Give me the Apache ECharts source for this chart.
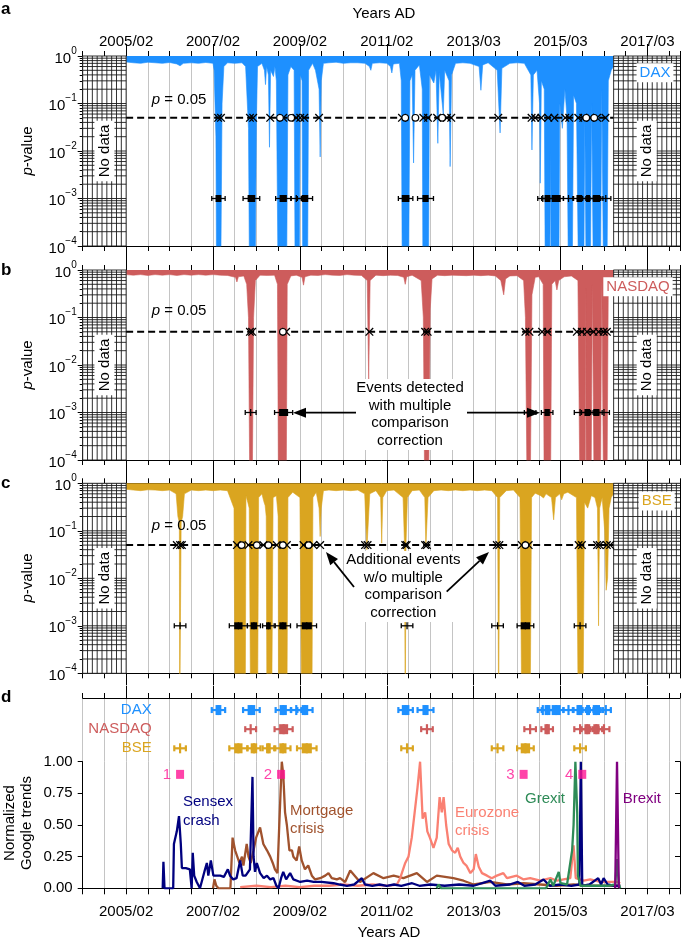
<!DOCTYPE html>
<html><head><meta charset="utf-8">
<script src="https://cdn.jsdelivr.net/npm/echarts@6/dist/echarts.min.js"></script>
<style>html,body{margin:0;padding:0;background:#fff}#c{width:685px;height:941px}</style>
</head><body><div id="c"></div>
<script>
// ---------- DATA (x = months since 2004/02) ----------
const tickMonths = [12,36,60,84,108,132,156];
const tickLabels = ['2005/02','2007/02','2009/02','2011/02','2013/03','2015/03','2017/03'];
const pExponents = [0,1,2,3,4];
const pThreshold = 0.05;
const pCorrected = 0.001;
const dataStart = 12, dataEnd = 146.6;

const daxMonth = [12,14,16,18,20,22,24,26,26.9,27.8,30,32,34,36,36.3,36.8,37.0,38.1,38.5,39.0,40,42,44,45.0,45.8,46.1,47.6,48.0,48.3,49.5,50.2,50.5,50.8,51.3,51.6,51.9,52.7,53.1,53.5,54.0,56.3,56.7,57.5,58.4,58.7,59.8,60.1,60.6,60.8,62.1,62.4,63.5,64.3,65.3,65.6,65.9,66.5,68,70,72,74,76,78,79.2,79.6,80,82,84,85,85.4,85.8,87.5,88.0,88.3,90.0,90.4,91.0,91.4,91.8,93,93.8,94.0,95.5,95.8,97.0,97.6,98.1,98.5,99.6,100.0,101.2,101.5,101.9,103,105,107,109.5,110,110.5,112,114.5,115.3,115.8,118,120,122,123.8,124.1,124.5,125.5,126.2,126.4,126.7,127.5,127.8,129.0,129.2,129.4,131.5,131.8,132.5,133.2,133.8,134.2,135.2,135.6,136.4,137.0,138.4,138.7,139.1,140.2,140.6,141.1,143.0,143.4,143.9,144.8,145.2,146.0,146.6];
const daxP = [0.75,0.72,0.7,0.74,0.72,0.7,0.73,0.68,0.62,0.7,0.72,0.7,0.73,0.7,0.5,0.02,1e-5,1e-5,0.1,0.6,0.72,0.7,0.72,0.6,0.03,1e-5,1e-5,0.05,0.6,0.7,0.5,0.25,0.6,0.4,0.012,0.5,0.37,0.6,0.3,1e-5,1e-5,0.4,0.6,0.5,1e-5,1e-5,0.4,0.3,1e-5,1e-5,0.5,0.7,0.5,0.2,0.0075,0.3,0.7,0.72,0.74,0.7,0.72,0.72,0.7,0.6,0.5,0.7,0.72,0.7,0.6,0.44,0.68,0.7,0.3,1e-5,1e-5,0.3,0.4,0.0056,0.5,0.65,0.2,1e-5,1e-5,0.4,0.27,0.5,0.0145,0.45,0.06,0.5,0.3,0.0047,0.4,0.7,0.72,0.7,0.6,0.19,0.65,0.72,0.5,0.024,0.55,0.7,0.72,0.7,0.4,0.0105,0.4,0.5,0.1,0.0021,0.3,0.2,1e-5,1e-5,0.01,1e-5,1e-5,0.1,0.03,0.2,0.05,1e-5,1e-5,0.15,0.1,1e-5,1e-5,0.05,1e-5,1e-5,0.1,1e-5,1e-5,0.2,1e-5,1e-5,0.3,0.5,0.6];

const nasdaqMonth = [12,14,16,18,20,22,24,26,28,30,32,34,36,38,40,42.2,42.6,43.0,44.5,45.3,45.8,46.2,46.8,47.2,47.7,49,51,53,53.8,54.1,56.2,56.5,57.5,59,60.6,61.0,61.4,63,65,67,69,71,73,75,77,78.6,79.0,79.4,81,83,85,87,88.7,89.1,89.5,91,93.5,94.1,94.5,95.5,96.0,96.5,98,100,102,104,106,108,110,112,114,115.5,116.3,116.8,118,120,121.8,122.3,122.8,123.6,124.1,125,126,127.2,127.5,129.2,129.6,130.5,131.0,131.5,133,135,136.8,137.4,138.8,138.95,139.1,140.4,140.8,141.3,143.0,143.4,143.9,144.8,145.2,146.6];
const nasdaqP = [0.8,0.78,0.8,0.77,0.8,0.78,0.8,0.77,0.8,0.78,0.8,0.78,0.8,0.78,0.77,0.7,0.56,0.72,0.75,0.5,0.1,1e-5,1e-5,0.1,0.6,0.78,0.77,0.78,0.5,1e-5,1e-5,0.5,0.75,0.78,0.7,0.48,0.72,0.78,0.77,0.8,0.78,0.77,0.8,0.78,0.77,0.6,0.005,0.6,0.78,0.76,0.78,0.77,0.7,0.5,0.72,0.78,0.6,0.1,1e-5,1e-5,0.15,0.65,0.78,0.76,0.78,0.77,0.76,0.78,0.76,0.78,0.75,0.6,0.3,0.65,0.75,0.76,0.6,0.1,1e-5,1e-5,0.3,0.7,0.72,0.5,1e-5,1e-5,0.5,0.6,0.38,0.6,0.72,0.75,0.6,1e-5,1e-5,0.4,1e-5,1e-5,0.5,1e-5,1e-5,0.6,1e-5,1e-5,0.6,0.7];

const bseMonth = [12,14,16,18,20,22,24,25.8,26.3,26.7,26.8,27.1,27.2,27.6,28.1,30,32,34,36,38,40,41.8,42.1,44.9,45.1,45.6,46.0,46.4,48.3,48.6,49.5,50.1,50.4,50.7,50.9,52.2,52.6,53.5,54.0,54.1,56.4,56.7,58,60.0,60.5,63.3,63.6,64.5,65.3,65.6,65.9,66.5,68,70,72,74,76,77.9,78.5,79.0,79.3,81,82.3,82.6,82.9,84,86,88.5,88.9,89.1,89.3,89.7,91,93,94.5,94.8,95.1,95.4,97,99,101,103,105,107,109,111,113,114.6,114.9,115.2,117,119,120.8,121.3,123.6,124.0,125,126.5,127.3,128,129.5,130.1,130.6,131.8,132.3,132.9,134,136.4,136.9,138.2,138.6,139.5,140.5,141.5,142.2,142.5,142.8,143.5,144.2,144.6,145.0,145.4,146.0,146.6];
const bseP = [0.75,0.72,0.7,0.73,0.72,0.7,0.72,0.6,0.2,0.15,1e-5,1e-5,0.15,0.2,0.6,0.72,0.7,0.72,0.7,0.72,0.7,0.3,1e-5,1e-5,0.55,0.4,0.3,1e-5,1e-5,0.5,0.6,0.4,0.34,0.2,1e-5,1e-5,0.5,0.55,0.2,1e-5,1e-5,0.5,0.65,0.5,1e-5,1e-5,0.5,0.65,0.3,0.076,0.3,0.7,0.72,0.7,0.72,0.7,0.72,0.6,0.04,0.04,0.6,0.7,0.5,0.055,0.5,0.7,0.72,0.5,0.05,1e-5,0.05,0.5,0.7,0.72,0.5,0.047,0.047,0.5,0.7,0.72,0.7,0.72,0.7,0.72,0.7,0.72,0.7,0.5,1e-5,0.5,0.7,0.72,0.5,1e-5,1e-5,0.5,0.62,0.55,0.49,0.6,0.5,0.17,0.5,0.6,0.45,0.6,0.65,0.5,1e-5,1e-5,0.4,0.3,0.55,0.5,0.3,0.001,0.3,0.5,0.1,0.0056,0.01,0.3,0.5,0.6];

// markers on the p = 0.05 line (months)
const daxXMarks = [37.4,38.2,46.2,47.1,51.8,55.4,59.0,60.1,61.2,65.3,88.2,94.1,95.4,97.9,100.6,101.8,114.8,124.0,125.0,126.7,128.6,130.3,133.3,134.4,136.9,138.3,140.2,142.1,144.4];
const daxOMarks = [54.5,57.6,89.1,91.9,99.3,139.1,141.3];
const nasdaqXMarks = [46.2,46.8,56.2,79.2,94.6,95.3,122.3,123.4,126.9,128.4,136.5,137.9,139.3,141.1,142.5,143.9,144.8];
const nasdaqOMarks = [55.3];
const bseXMarks = [26.0,26.9,27.4,42.6,45.8,49.9,53.6,56.4,61.0,63.7,65.6,78.0,78.7,89.1,89.5,94.6,95.1,114.4,115.1,121.3,123.2,137.0,137.9,142.1,142.8,144.8,145.7];
const bseOMarks = [43.9,48.1,51.3,55.3,62.4,122.3];

// events detected with correction: [centre month, box width (months), half whisker (months)]
const daxEvents = [[37.5,1.6,1.85],[46.6,2.1,2.3],[55.4,2.0,2.1],[59.0,0,1.4],[61.4,1.8,2.1],[89.2,2.1,2.0],[94.7,1.7,2.2],[127.1,0,1.4],[128.4,1.6,1.6],[130.8,2.5,2.0],[134.2,0,1.4],[137.2,1.6,1.8],[139.6,1.1,1.5],[141.9,2.0,1.8],[144.5,0,1.4]];
const nasdaqEvents = [[46.4,0,1.5],[55.5,2.5,2.5],[95.1,0,1.6],[123.6,0,1.6],[128.3,1.5,1.6],[137.4,0,1.6],[139.4,1.6,1.6],[141.9,1.7,1.6],[144.0,0,1.5]];
const bseEvents = [[26.9,0,1.6],[43.0,2.3,2.5],[47.3,1.8,1.8],[51.3,1.3,1.6],[55.3,2.0,2.1],[61.9,2.8,2.7],[89.6,0,1.6],[114.6,0,1.6],[122.3,2.6,2.3],[137.4,0,1.6]];

// Google trends
const sensexM = [22.1,22.3,22.6,25.0,25.2,26.0,26.6,27.1,27.4,28.5,29.6,30.1,30.4,30.8,31.5,32.4,33.8,34.3,34.7,35.4,36.1,37,38,39,40.1,40.7,41.6,42.5,43.5,44.2,45,46.2,46.9,47.2,47.6,48.1,49.0,50.0,50.9,51.8,52.7,53.5,54.1,54.8,55.4,56.2,57.3,58.2,60.1,62,63.8,66,69.3,71,73,75,77.1,78,80,82,84,86,88,91.0,93,96,100,104,108,112.6,114,118,120.2,122,125,127.3,129,132,135,137.2,137.6,138.0,140,142.4,143.2,143.9,145,147,148.5];
const sensexV = [0,0.21,0,0,0.35,0.45,0.57,0.35,0.16,0.16,0.15,0,0.28,0.1,0.05,0,0.15,0.2,0.1,0.22,0.1,0.1,0.1,0.09,0.15,0.1,0.07,0.08,0.22,0.1,0.1,0.15,0.88,0.25,0.13,0.2,0.12,0.08,0.1,0.07,0.08,0.02,0,0.08,0.13,0.07,0.12,0.07,0.05,0.06,0.05,0.05,0.04,0.03,0.02,0.03,0.08,0.03,0.02,0.03,0.02,0.03,0.02,0.04,0.02,0.03,0.02,0.03,0.02,0.06,0.02,0.03,0.05,0.02,0.03,0.07,0.02,0.03,0.02,0.03,1.0,0.02,0.03,0.08,0.03,0.08,0.03,0.02,0.02];
const mortgageM = [36.0,36.4,36.9,37.5,40.8,41.4,42.1,42.6,43.3,44.0,44.4,45.3,45.8,46.4,47.2,47.9,49.0,49.9,50.9,51.8,52.5,53.1,53.8,54.3,55.0,55.4,55.9,56.4,57.1,57.8,58.2,59.1,59.8,60.5,61.4,62.3,63.3,64.2,65.6,67.0,67.9,68.8,70.2,71.1,72.5,73.9,76.6,80.3,83.1,85.9,88.6,92.3,95.1,97.8,102.4,105.2,108.0,112.6,117.2,121.8,126.4,131,135.6,140,145,148.5];
const mortgageV = [0,0.07,0.02,0,0,0.4,0.3,0.3,0.2,0.25,0.18,0.35,0.25,0.2,0.3,0.4,0.48,0.35,0.3,0.25,0.2,0.15,0.12,0.5,1.0,0.9,0.6,0.5,0.3,0.3,0.25,0.22,0.33,0.22,0.15,0.18,0.1,0.07,0.08,0.1,0.12,0.08,0.07,0.08,0.05,0.14,0.05,0.12,0.08,0.1,0.08,0.12,0.05,0.1,0.08,0.06,0.03,0.05,0.03,0.04,0.03,0.02,0.03,0.02,0.02,0.02];
const eurozoneM = [43.5,48,52,56,60,64,68,72,76,80,84,86.8,87.7,89.1,90.0,90.9,91.9,92.5,93.2,93.9,94.6,95.2,95.9,96.9,97.8,98.6,99.2,99.7,100.4,101.1,102.0,102.9,103.6,104.3,105.2,106.0,107.1,108.0,108.6,109.4,110.3,111.7,113.0,114.4,116.2,117.2,119.9,121.8,123.6,126.4,129.2,131.0,134.7,135.6,136.2,138.4,140.2,143.0,147.6,148.5];
const eurozoneV = [0.01,0.02,0.01,0.02,0.01,0.02,0.02,0.03,0.02,0.03,0.02,0.03,0.08,0.2,0.25,0.4,0.65,0.8,1.0,0.55,0.6,0.45,0.4,0.32,0.4,0.72,0.6,0.72,0.5,0.35,0.3,0.28,0.32,0.25,0.2,0.18,0.12,0.15,0.27,0.17,0.12,0.1,0.08,0.1,0.12,0.08,0.1,0.07,0.08,0.06,0.08,0.06,0.08,0.34,0.08,0.06,0.07,0.05,0.05,0.04];
const grexitM = [97.8,98.3,99,128,129.2,130.0,131.5,132.0,133.8,135.2,135.6,136.1,136.6,136.8,137.5,140,145,147.1,147.6,148.1,148.5];
const grexitV = [0,0.03,0,0,0.07,0.02,0.13,0.04,0.03,0.3,0.5,1.0,0.6,0.1,0.02,0.02,0.02,0.03,0.23,0.03,0];
const brexitM = [147.1,147.6,148.1];
const brexitV = [0,1.0,0];
const pinkM = [26.9,54.8,121.8,138.0];
const pinkV = [0.9,0.9,0.9,0.9];
const pinkLabels = ['1','2','3','4'];

// ---------- STYLE ----------
const FONT = '"Liberation Sans", Arial, Helvetica, sans-serif';
const C = {dax:'#1E90FF', nasdaq:'#CD5C5C', bse:'#DAA520', sensex:'#00007F', mortgage:'#A0522D', euro:'#FA8072', grexit:'#2E8B57', brexit:'#800080', pink:'#FF1493', grid:'#c4c4c4'};
const XMIN = 0, XMAX = 165, HATCH = 4/3;
const logTop = pExponents[0], logBottom = pExponents[pExponents.length-1];
const minorLog = [];
for (let k = 0; k < logBottom; k++) for (let m = 2; m <= 9; m++) minorLog.push(k + 1 - Math.log10(m));
const logGrid = pExponents.concat(minorLog);
const nl = p => -Math.log10(p);

const grids = [
  {left:82.7, top:56, width:597.3, height:190},
  {left:82.7, top:270, width:597.3, height:190},
  {left:82.7, top:483.3, width:597.3, height:190},
  {left:82.7, top:698, width:597.3, height:63.7},
  {left:82.7, top:761.7, width:597.3, height:126.6}
].map(g => Object.assign({containLabel:false, outerBoundsMode:'none'}, g));

const xAxis = [], yAxis = [], series = [];
const baseAx = {type:'value', min:XMIN, max:XMAX, axisLine:{show:false, onZero:false}, axisLabel:{show:false}, axisTick:{show:false}, splitLine:{show:false}};
function addX(o){ xAxis.push(Object.assign({}, baseAx, o)); return xAxis.length-1; }
function addY(o){ yAxis.push(Object.assign({type:'value', axisLine:{show:false,onZero:false}, axisLabel:{show:false}, axisTick:{show:false}, splitLine:{show:false}}, o)); return yAxis.length-1; }
const blackLine = {show:true, onZero:false, lineStyle:{color:'#000', width:1}};
const labelFor = v => tickLabels[tickMonths.indexOf(Math.round(v))] || '';

function minorX(g, pos, split){ return addX({gridIndex:g, position:pos, interval:6, axisLine:blackLine, axisTick:{show:true, length:5, lineStyle:{color:'#000'}}, splitLine:{show:split, lineStyle:{color:C.grid, width:1}}}); }
function majorX(g, pos, labels){
  return addX({gridIndex:g, position:pos, axisTick:{show:true, length:12, customValues:tickMonths, lineStyle:{color:'#000'}},
    axisLabel: labels ? {show:true, customValues:tickMonths, formatter:labelFor, fontSize:15, fontFamily:FONT, color:'#000', margin:7} : {show:false}});
}

function noDataRender(params, api){
  const x0 = api.value(0), x1 = api.value(1);
  const tl = api.coord([x0, logTop]), br = api.coord([x1, logBottom]);
  const ch = [{type:'rect', shape:{x:tl[0], y:tl[1], width:br[0]-tl[0], height:br[1]-tl[1]}, style:{fill:'#fff'}}];
  logGrid.forEach(v => { const y = api.coord([x0, v])[1]; ch.push({type:'line', shape:{x1:tl[0], y1:y, x2:br[0], y2:y}, style:{stroke:'#1a1a1a', lineWidth:0.9}}); });
  for (let k = Math.ceil(x0/HATCH - 1e-9); k*HATCH <= x1 + 1e-9; k++) {
    const x = api.coord([k*HATCH, logTop])[0];
    ch.push({type:'line', shape:{x1:x, y1:tl[1], x2:x, y2:br[1]}, style:{stroke:'#1a1a1a', lineWidth:0.9}});
  }
  ch.push({type:'text', x:(tl[0]+br[0])/2, y:(tl[1]+br[1])/2, rotation:Math.PI/2,
    style:{text:'No data', fontSize:15, fontFamily:FONT, fill:'#000', align:'center', verticalAlign:'middle', backgroundColor:'#fff', padding:[3,4,2,4]}});
  return {type:'group', children:ch};
}
function xMarkRender(params, api){
  const p = api.coord([api.value(0), api.value(1)]); const s = 3.8;
  return {type:'group', children:[
    {type:'line', shape:{x1:p[0]-s, y1:p[1]-s, x2:p[0]+s, y2:p[1]+s}, style:{stroke:'#000', lineWidth:1.3}},
    {type:'line', shape:{x1:p[0]-s, y1:p[1]+s, x2:p[0]+s, y2:p[1]-s}, style:{stroke:'#000', lineWidth:1.3}}]};
}
function oMarkRender(params, api){
  const p = api.coord([api.value(0), api.value(1)]);
  return {type:'circle', shape:{cx:p[0], cy:p[1], r:3.3}, style:{stroke:'#000', fill:'#fff', lineWidth:1.2}};
}
function eventRender(yVal, color, boxH, crossH, lw, capH){
  return function(params, api){
    const c = api.value(0), bw = api.value(1), wh = api.value(2);
    const p = api.coord([c, yVal]), pl = api.coord([c-wh, yVal]), pr = api.coord([c+wh, yVal]);
    const w = api.size([bw, 0])[0];
    const st = {stroke:color, lineWidth:lw};
    const ch = [
      {type:'line', shape:{x1:pl[0], y1:p[1], x2:pr[0], y2:p[1]}, style:st},
      {type:'line', shape:{x1:pl[0], y1:p[1]-capH/2, x2:pl[0], y2:p[1]+capH/2}, style:st},
      {type:'line', shape:{x1:pr[0], y1:p[1]-capH/2, x2:pr[0], y2:p[1]+capH/2}, style:st},
      {type:'line', shape:{x1:p[0], y1:p[1]-crossH/2, x2:p[0], y2:p[1]+crossH/2}, style:st}];
    if (bw > 0) ch.push({type:'rect', shape:{x:p[0]-w/2, y:p[1]-boxH/2, width:w, height:boxH}, style:{fill:color}});
    return {type:'group', children:ch};
  };
}

const panels = [
  {m:daxMonth, p:daxP, color:C.dax, xm:daxXMarks, om:daxOMarks, ev:daxEvents},
  {m:nasdaqMonth, p:nasdaqP, color:C.nasdaq, xm:nasdaqXMarks, om:nasdaqOMarks, ev:nasdaqEvents},
  {m:bseMonth, p:bseP, color:C.bse, xm:bseXMarks, om:bseOMarks, ev:bseEvents}
];
panels.forEach((P, g) => {
  const xi = minorX(g, 'top', true);
  majorX(g, 'top', g === 0);
  minorX(g, 'bottom', false);
  majorX(g, 'bottom', false);
  const yi = addY({gridIndex:g, position:'left', inverse:true, min:logTop, max:logBottom, interval:1,
    axisLine:blackLine, axisTick:{show:true, length:5, lineStyle:{color:'#000'}},
    axisLabel:{show:true, margin:6, formatter:v => '{b|10}{s|' + (v === 0 ? '0' : '\u2212' + v) + '}',
      rich:{b:{fontSize:15, fontFamily:FONT, color:'#000', lineHeight:20, verticalAlign:'bottom'},
            s:{fontSize:10, fontFamily:FONT, color:'#000', lineHeight:10, verticalAlign:'top'}}}});
  addY({gridIndex:g, position:'left', inverse:true, min:logTop, max:logBottom, axisTick:{show:true, length:3, customValues:minorLog, lineStyle:{color:'#000'}}});
  addY({gridIndex:g, position:'right', inverse:true, min:logTop, max:logBottom, axisLine:blackLine});
  series.push({type:'line', xAxisIndex:xi, yAxisIndex:yi, data:P.m.map((m,i) => [m, nl(P.p[i])]), symbol:'none',
    lineStyle:{width:0.6, color:P.color}, areaStyle:{color:P.color, opacity:1, origin:'start'}, z:2, silent:true});
  series.push({type:'custom', xAxisIndex:xi, yAxisIndex:yi, data:[[XMIN, dataStart],[dataEnd, XMAX]], renderItem:noDataRender, z:3, silent:true});
  series.push({type:'line', xAxisIndex:xi, yAxisIndex:yi, data:[[dataStart, nl(pThreshold)],[dataEnd, nl(pThreshold)]], symbol:'none',
    lineStyle:{color:'#000', width:2, type:[7,4]}, z:4, silent:true});
  series.push({type:'custom', xAxisIndex:xi, yAxisIndex:yi, data:P.xm.map(m => [m, nl(pThreshold)]), renderItem:xMarkRender, z:5, silent:true});
  series.push({type:'custom', xAxisIndex:xi, yAxisIndex:yi, data:P.om.map(m => [m, nl(pThreshold)]), renderItem:oMarkRender, z:5, silent:true});
  series.push({type:'custom', xAxisIndex:xi, yAxisIndex:yi, data:P.ev, renderItem:eventRender(nl(pCorrected), '#000', 7, 7, 1.3, 5), z:5, silent:true});
});

// panel d top: event rows
const rowY = {dax:2, nasdaq:1, bse:0};
const xd = minorX(3, 'top', true);
majorX(3, 'top', false);
const yd = addY({gridIndex:3, min:-0.7, max:2.63});
[[daxEvents, C.dax, rowY.dax],[nasdaqEvents, C.nasdaq, rowY.nasdaq],[bseEvents, C.bse, rowY.bse]].forEach(([ev, col, ry]) => {
  series.push({type:'custom', xAxisIndex:xd, yAxisIndex:yd, data:ev, renderItem:eventRender(ry, col, 10, 10, 2.2, 6), z:5, silent:true});
});

// panel d bottom: google trends
const xt = addX({gridIndex:4, position:'bottom', interval:6, axisLine:blackLine, axisTick:{show:true, length:6, lineStyle:{color:'#000'}},
  splitLine:{show:true, lineStyle:{color:C.grid, width:1}},
  axisLabel:{show:true, customValues:tickMonths, formatter:labelFor, fontSize:15, fontFamily:FONT, color:'#000', margin:16}});
const yt = addY({gridIndex:4, position:'left', min:0, max:1, interval:0.25, axisLine:blackLine,
  axisTick:{show:true, length:5, lineStyle:{color:'#000'}},
  axisLabel:{show:true, margin:10, formatter:v => v.toFixed(2), fontSize:15, fontFamily:FONT, color:'#000'}});
addY({gridIndex:4, position:'right', min:0, max:1, interval:0.25, axisLine:blackLine, axisTick:{show:true, inside:true, length:5, lineStyle:{color:'#000'}}});
[[mortgageM, mortgageV, C.mortgage],[eurozoneM, eurozoneV, C.euro],[sensexM, sensexV, C.sensex],[grexitM, grexitV, C.grexit],[brexitM, brexitV, C.brexit]].forEach(([m, v, col], i) => {
  series.push({type:'line', xAxisIndex:xt, yAxisIndex:yt, data:m.map((x,j) => [x, v[j]]), symbol:'none', lineStyle:{color:col, width:2.3}, z:3+i, silent:true});
});
series.push({type:'scatter', xAxisIndex:xt, yAxisIndex:yt, data:pinkM.map((m,i) => ({value:[m, pinkV[i]], label:{formatter:pinkLabels[i]}})),
  symbol:'rect', symbolSize:[8,9], itemStyle:{color:C.pink}, z:10, silent:true,
  label:{show:true, position:'left', distance:5, color:C.pink, fontSize:15, fontFamily:FONT}});

// ---------- annotations ----------
function T(x, y, text, o){ o = o || {};
  return {type:'text', x:x, y:y, rotation:o.rot || 0, z:100, silent:true,
    style:Object.assign({text:text, fontSize:15, fontFamily:FONT, fill:'#000', align:'center', verticalAlign:'middle'}, o.style || {})}; }
function arrow(x1, y1, x2, y2){
  const dx = x2-x1, dy = y2-y1, L = Math.hypot(dx, dy), ux = dx/L, uy = dy/L, hl = 13, hw = 5;
  const bx = x2-ux*hl, by = y2-uy*hl;
  return [{type:'line', z:101, silent:true, shape:{x1:x1, y1:y1, x2:bx, y2:by}, style:{stroke:'#000', lineWidth:1.8}},
          {type:'polygon', z:101, silent:true, shape:{points:[[x2,y2],[bx-uy*hw, by+ux*hw],[bx+uy*hw, by-ux*hw]]}, style:{fill:'#000'}}];
}
const it = {i:{fontStyle:'italic', fontSize:15, fontFamily:FONT}};
const graphic = [
  T(1, 9, 'a', {style:{align:'left', fontWeight:'bold', fontSize:17}}),
  T(1, 270, 'b', {style:{align:'left', fontWeight:'bold', fontSize:17}}),
  T(1, 483, 'c', {style:{align:'left', fontWeight:'bold', fontSize:17}}),
  T(1, 697, 'd', {style:{align:'left', fontWeight:'bold', fontSize:17}}),
  T(384, 14, 'Years AD'),
  T(389, 933, 'Years AD'),
  T(28, 151, '{i|p}-value', {rot:Math.PI/2, style:{rich:it}}),
  T(28, 365, '{i|p}-value', {rot:Math.PI/2, style:{rich:it}}),
  T(28, 578, '{i|p}-value', {rot:Math.PI/2, style:{rich:it}}),
  T(18, 823, 'Normalized\nGoogle trends', {rot:Math.PI/2, style:{lineHeight:17}}),
  T(151.7, 100, '{i|p} = 0.05', {style:{align:'left', rich:it}}),
  T(151.7, 310.7, '{i|p} = 0.05', {style:{align:'left', rich:it}}),
  T(151.7, 525.7, '{i|p} = 0.05', {style:{align:'left', rich:it}}),
  T(410, 414.5, 'Events detected\nwith multiple\ncomparison\ncorrection', {style:{lineHeight:17.7, backgroundColor:'#fff', padding:[0,2]}}),
  T(403.3, 586.5, 'Additional events\nw/o multiple\ncomparison\ncorrection', {style:{lineHeight:17.7, backgroundColor:'#fff', padding:[0,2]}}),
  T(655, 72.7, 'DAX', {style:{fill:C.dax, backgroundColor:'#fff', padding:[2,3]}}),
  T(638, 286.7, 'NASDAQ', {style:{fill:C.nasdaq, backgroundColor:'#fff', padding:[2,3]}}),
  T(656.7, 501, 'BSE', {style:{fill:C.bse, backgroundColor:'#fff', padding:[2,3]}}),
  T(151.7, 710, 'DAX', {style:{align:'right', fill:C.dax}}),
  T(151.7, 729, 'NASDAQ', {style:{align:'right', fill:C.nasdaq}}),
  T(151.7, 748.3, 'BSE', {style:{align:'right', fill:C.bse}}),
  T(183, 811.5, 'Sensex\ncrash', {style:{align:'left', fill:C.sensex, lineHeight:18.5}}),
  T(290, 820, 'Mortgage\ncrisis', {style:{align:'left', fill:C.mortgage, lineHeight:18.5}}),
  T(455, 821.7, 'Eurozone\ncrisis', {style:{align:'left', fill:C.euro, lineHeight:18.5}}),
  T(525, 799, 'Grexit', {style:{align:'left', fill:C.grexit}}),
  T(622.7, 799, 'Brexit', {style:{align:'left', fill:C.brexit}})
].concat(arrow(356, 412.7, 293, 412.7), arrow(467, 412.7, 540, 412.7), arrow(354, 587, 326, 552), arrow(446.7, 591.7, 489, 552));

const chart = echarts.init(document.getElementById('c'), null, {renderer:'canvas'});
chart.setOption({animation:false, backgroundColor:'#fff', grid:grids, xAxis:xAxis, yAxis:yAxis, series:series, graphic:graphic});
</script></body></html>
